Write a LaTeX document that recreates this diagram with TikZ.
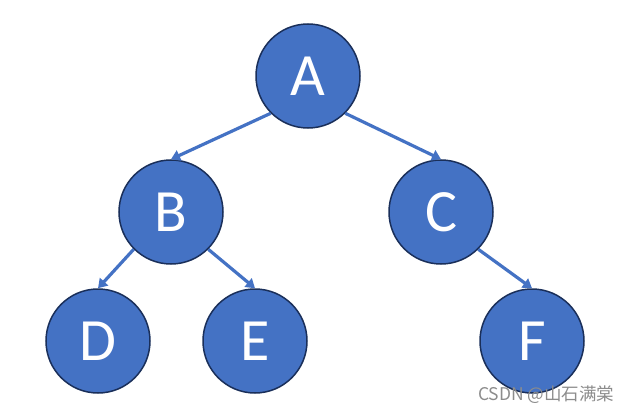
\documentclass[tikz,border=0pt]{standalone}
\usepackage{fontspec}
\setmainfont{Carlito}
\newfontfamily\cjkfont{Noto Sans CJK SC}
\usetikzlibrary{arrows.meta}
\definecolor{nodeblue}{HTML}{4472C4}
\definecolor{nodeborder}{HTML}{1A2F5A}
\begin{document}
\begin{tikzpicture}[x=1pt,y=-1pt,
  treenode/.style={circle,fill=nodeblue,draw=nodeborder,line width=1.5pt,
    minimum size=104pt,inner sep=0pt,text=white,
    font=\fontsize{60}{60}\selectfont},
  treeedge/.style={draw=nodeblue,line width=3.2pt,
    -{Triangle[length=9pt,width=11pt]}}]
\useasboundingbox (0,0) rectangle (630,412);
\node[treenode] (A) at (308,76) {A};
\node[treenode] (B) at (171,212) {B};
\node[treenode] (C) at (441,212) {C};
\node[treenode] (D) at (98,341) {D};
\node[treenode] (E) at (255,341) {E};
\node[treenode] (F) at (532,341) {F};
\draw[treeedge] (A.-135) -- (B.north);
\draw[treeedge] (A.-45) -- (C.north);
\draw[treeedge] (B.-135) -- (D.north);
\draw[treeedge] (B.-45) -- (E.north);
\draw[treeedge] (C.-45) -- (F.north);
\node[anchor=base west,inner sep=0pt,text=black!45,
  font=\cjkfont\fontsize{17.5}{17.5}\selectfont] (wm) at (478,400) {CSDN @山石满棠};
\end{tikzpicture}
\end{document}
